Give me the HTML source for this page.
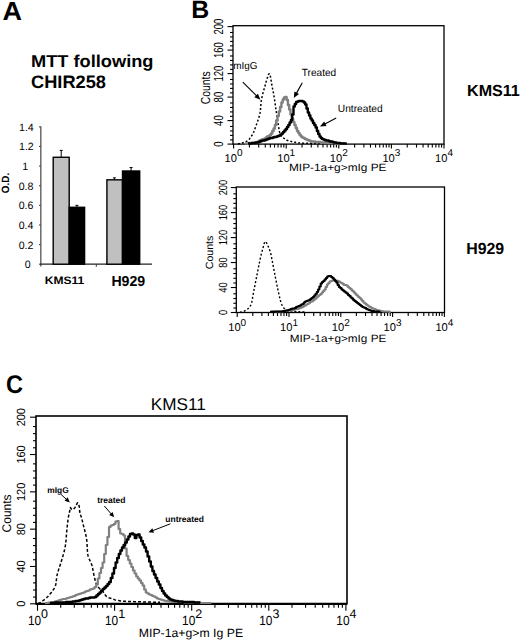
<!DOCTYPE html>
<html><head><meta charset="utf-8"><style>
html,body{margin:0;padding:0;background:#fff;width:520px;height:642px;overflow:hidden}
svg{display:block}
text{font-family:"Liberation Sans",sans-serif;text-rendering:geometricPrecision}
</style></head><body>
<svg width="520" height="642" viewBox="0 0 520 642">
<rect width="520" height="642" fill="#fff"/>
<text x="2.5" y="20" font-size="26" font-weight="bold" text-anchor="start" textLength="19.5" lengthAdjust="spacingAndGlyphs" fill="#000" >A</text>
<text x="31" y="66.5" font-size="17.2" font-weight="bold" text-anchor="start" textLength="122.5" lengthAdjust="spacingAndGlyphs" fill="#000" >MTT following</text>
<text x="31" y="88" font-size="18" font-weight="bold" text-anchor="start" textLength="75" lengthAdjust="spacingAndGlyphs" fill="#000" >CHIR258</text>
<line x1="40.80" y1="126.20" x2="40.80" y2="266.40" stroke="#6a6a6a" stroke-width="1.5" />
<line x1="40.00" y1="264.20" x2="152.00" y2="264.20" stroke="#222" stroke-width="1.3" />
<line x1="39.00" y1="264.20" x2="40.50" y2="264.20" stroke="#333" stroke-width="1" />
<text x="27.8" y="268.3" font-size="10.6" text-anchor="middle" fill="#000" >0</text>
<line x1="39.00" y1="244.58" x2="40.50" y2="244.58" stroke="#333" stroke-width="1" />
<text x="26" y="248.64000000000001" font-size="10.6" text-anchor="middle" fill="#000" >0.2</text>
<line x1="39.00" y1="224.96" x2="40.50" y2="224.96" stroke="#333" stroke-width="1" />
<text x="26" y="228.98000000000002" font-size="10.6" text-anchor="middle" fill="#000" >0.4</text>
<line x1="39.00" y1="205.34" x2="40.50" y2="205.34" stroke="#333" stroke-width="1" />
<text x="26" y="209.32" font-size="10.6" text-anchor="middle" fill="#000" >0.6</text>
<line x1="39.00" y1="185.72" x2="40.50" y2="185.72" stroke="#333" stroke-width="1" />
<text x="26" y="189.66000000000003" font-size="10.6" text-anchor="middle" fill="#000" >0.8</text>
<line x1="39.00" y1="166.10" x2="40.50" y2="166.10" stroke="#333" stroke-width="1" />
<text x="25.3" y="170.0" font-size="10.6" text-anchor="middle" fill="#000" >1</text>
<line x1="39.00" y1="146.48" x2="40.50" y2="146.48" stroke="#333" stroke-width="1" />
<text x="26.4" y="150.34" font-size="10.6" text-anchor="middle" fill="#000" >1.2</text>
<line x1="39.00" y1="126.86" x2="40.50" y2="126.86" stroke="#333" stroke-width="1" />
<text x="26.4" y="130.68" font-size="10.6" text-anchor="middle" fill="#000" >1.4</text>
<line x1="96.30" y1="264.20" x2="96.30" y2="266.80" stroke="#333" stroke-width="1" />
<rect x="53.2" y="157.27" width="16.0" height="106.93" fill="#c0c0c0" stroke="#000" stroke-width="1.4"/>
<rect x="69.2" y="207.30" width="15.399999999999991" height="56.90" fill="#000" stroke="#000" stroke-width="1.4"/>
<rect x="106.9" y="179.83" width="15.599999999999994" height="84.37" fill="#c0c0c0" stroke="#000" stroke-width="1.4"/>
<rect x="122.5" y="171.00" width="17.19999999999999" height="93.19" fill="#000" stroke="#000" stroke-width="1.4"/>
<line x1="61.20" y1="157.27" x2="61.20" y2="150.40" stroke="#000" stroke-width="1" />
<line x1="59.70" y1="150.40" x2="62.70" y2="150.40" stroke="#000" stroke-width="1" />
<line x1="76.90" y1="207.30" x2="76.90" y2="205.34" stroke="#000" stroke-width="1" />
<line x1="75.40" y1="205.34" x2="78.40" y2="205.34" stroke="#000" stroke-width="1" />
<line x1="114.40" y1="179.83" x2="114.40" y2="177.87" stroke="#000" stroke-width="1" />
<line x1="112.90" y1="177.87" x2="115.90" y2="177.87" stroke="#000" stroke-width="1" />
<line x1="131.10" y1="171.00" x2="131.10" y2="167.57" stroke="#000" stroke-width="1" />
<line x1="129.60" y1="167.57" x2="132.60" y2="167.57" stroke="#000" stroke-width="1" />
<text x="8.8" y="183" font-size="10.5" font-weight="bold" text-anchor="middle" textLength="20.5" lengthAdjust="spacingAndGlyphs" transform="rotate(-90 8.8 183)" fill="#000" >O.D.</text>
<text x="44.8" y="284" font-size="10.8" font-weight="bold" text-anchor="start" textLength="39.5" lengthAdjust="spacingAndGlyphs" fill="#000" >KMS11</text>
<text x="111.4" y="286" font-size="14.5" font-weight="bold" text-anchor="start" textLength="33.8" lengthAdjust="spacingAndGlyphs" fill="#000" >H929</text>
<text x="191.2" y="17.6" font-size="25" font-weight="bold" text-anchor="start" textLength="18" lengthAdjust="spacingAndGlyphs" fill="#000" >B</text>
<rect x="233" y="25.7" width="211" height="118.39999999999999" fill="none" stroke="#000" stroke-width="1.3"/>
<line x1="227.50" y1="26.60" x2="233.00" y2="26.60" stroke="#000" stroke-width="1.1" />
<text x="223.2" y="26.6" font-size="13.2" text-anchor="middle" textLength="16.0" lengthAdjust="spacingAndGlyphs" transform="rotate(-90 223.2 26.6)" fill="#000" >200</text>
<line x1="230.00" y1="32.48" x2="233.00" y2="32.48" stroke="#000" stroke-width="1.1" />
<line x1="230.00" y1="36.94" x2="233.00" y2="36.94" stroke="#000" stroke-width="1.1" />
<line x1="230.00" y1="41.41" x2="233.00" y2="41.41" stroke="#000" stroke-width="1.1" />
<line x1="230.00" y1="45.87" x2="233.00" y2="45.87" stroke="#000" stroke-width="1.1" />
<line x1="227.50" y1="50.10" x2="233.00" y2="50.10" stroke="#000" stroke-width="1.1" />
<text x="223.2" y="50.1" font-size="13.2" text-anchor="middle" textLength="16.0" lengthAdjust="spacingAndGlyphs" transform="rotate(-90 223.2 50.1)" fill="#000" >160</text>
<line x1="230.00" y1="55.98" x2="233.00" y2="55.98" stroke="#000" stroke-width="1.1" />
<line x1="230.00" y1="60.44" x2="233.00" y2="60.44" stroke="#000" stroke-width="1.1" />
<line x1="230.00" y1="64.91" x2="233.00" y2="64.91" stroke="#000" stroke-width="1.1" />
<line x1="230.00" y1="69.37" x2="233.00" y2="69.37" stroke="#000" stroke-width="1.1" />
<line x1="227.50" y1="73.60" x2="233.00" y2="73.60" stroke="#000" stroke-width="1.1" />
<text x="223.2" y="73.6" font-size="13.2" text-anchor="middle" textLength="16.0" lengthAdjust="spacingAndGlyphs" transform="rotate(-90 223.2 73.6)" fill="#000" >120</text>
<line x1="230.00" y1="79.47" x2="233.00" y2="79.47" stroke="#000" stroke-width="1.1" />
<line x1="230.00" y1="83.94" x2="233.00" y2="83.94" stroke="#000" stroke-width="1.1" />
<line x1="230.00" y1="88.41" x2="233.00" y2="88.41" stroke="#000" stroke-width="1.1" />
<line x1="230.00" y1="92.87" x2="233.00" y2="92.87" stroke="#000" stroke-width="1.1" />
<line x1="227.50" y1="97.10" x2="233.00" y2="97.10" stroke="#000" stroke-width="1.1" />
<text x="223.2" y="97.1" font-size="13.2" text-anchor="middle" textLength="10.666666666666666" lengthAdjust="spacingAndGlyphs" transform="rotate(-90 223.2 97.1)" fill="#000" >80</text>
<line x1="230.00" y1="102.97" x2="233.00" y2="102.97" stroke="#000" stroke-width="1.1" />
<line x1="230.00" y1="107.44" x2="233.00" y2="107.44" stroke="#000" stroke-width="1.1" />
<line x1="230.00" y1="111.91" x2="233.00" y2="111.91" stroke="#000" stroke-width="1.1" />
<line x1="230.00" y1="116.37" x2="233.00" y2="116.37" stroke="#000" stroke-width="1.1" />
<line x1="227.50" y1="120.60" x2="233.00" y2="120.60" stroke="#000" stroke-width="1.1" />
<text x="223.2" y="120.6" font-size="13.2" text-anchor="middle" textLength="10.666666666666666" lengthAdjust="spacingAndGlyphs" transform="rotate(-90 223.2 120.6)" fill="#000" >40</text>
<line x1="230.00" y1="126.47" x2="233.00" y2="126.47" stroke="#000" stroke-width="1.1" />
<line x1="230.00" y1="130.94" x2="233.00" y2="130.94" stroke="#000" stroke-width="1.1" />
<line x1="230.00" y1="135.41" x2="233.00" y2="135.41" stroke="#000" stroke-width="1.1" />
<line x1="230.00" y1="139.87" x2="233.00" y2="139.87" stroke="#000" stroke-width="1.1" />
<line x1="227.50" y1="144.10" x2="233.00" y2="144.10" stroke="#000" stroke-width="1.1" />
<text x="223.2" y="144.1" font-size="13.2" text-anchor="middle" textLength="5.333333333333333" lengthAdjust="spacingAndGlyphs" transform="rotate(-90 223.2 144.1)" fill="#000" >0</text>
<line x1="233.60" y1="144.10" x2="233.60" y2="148.60" stroke="#000" stroke-width="1.1" />
<line x1="249.43" y1="144.10" x2="249.43" y2="147.60" stroke="#000" stroke-width="1.1" />
<line x1="258.70" y1="144.10" x2="258.70" y2="147.60" stroke="#000" stroke-width="1.1" />
<line x1="265.27" y1="144.10" x2="265.27" y2="147.60" stroke="#000" stroke-width="1.1" />
<line x1="270.37" y1="144.10" x2="270.37" y2="147.60" stroke="#000" stroke-width="1.1" />
<line x1="274.53" y1="144.10" x2="274.53" y2="147.60" stroke="#000" stroke-width="1.1" />
<line x1="278.05" y1="144.10" x2="278.05" y2="147.60" stroke="#000" stroke-width="1.1" />
<line x1="281.10" y1="144.10" x2="281.10" y2="147.60" stroke="#000" stroke-width="1.1" />
<line x1="283.79" y1="144.10" x2="283.79" y2="147.60" stroke="#000" stroke-width="1.1" />
<line x1="286.20" y1="144.10" x2="286.20" y2="148.60" stroke="#000" stroke-width="1.1" />
<line x1="302.03" y1="144.10" x2="302.03" y2="147.60" stroke="#000" stroke-width="1.1" />
<line x1="311.30" y1="144.10" x2="311.30" y2="147.60" stroke="#000" stroke-width="1.1" />
<line x1="317.87" y1="144.10" x2="317.87" y2="147.60" stroke="#000" stroke-width="1.1" />
<line x1="322.97" y1="144.10" x2="322.97" y2="147.60" stroke="#000" stroke-width="1.1" />
<line x1="327.13" y1="144.10" x2="327.13" y2="147.60" stroke="#000" stroke-width="1.1" />
<line x1="330.65" y1="144.10" x2="330.65" y2="147.60" stroke="#000" stroke-width="1.1" />
<line x1="333.70" y1="144.10" x2="333.70" y2="147.60" stroke="#000" stroke-width="1.1" />
<line x1="336.39" y1="144.10" x2="336.39" y2="147.60" stroke="#000" stroke-width="1.1" />
<line x1="338.80" y1="144.10" x2="338.80" y2="148.60" stroke="#000" stroke-width="1.1" />
<line x1="354.63" y1="144.10" x2="354.63" y2="147.60" stroke="#000" stroke-width="1.1" />
<line x1="363.90" y1="144.10" x2="363.90" y2="147.60" stroke="#000" stroke-width="1.1" />
<line x1="370.47" y1="144.10" x2="370.47" y2="147.60" stroke="#000" stroke-width="1.1" />
<line x1="375.57" y1="144.10" x2="375.57" y2="147.60" stroke="#000" stroke-width="1.1" />
<line x1="379.73" y1="144.10" x2="379.73" y2="147.60" stroke="#000" stroke-width="1.1" />
<line x1="383.25" y1="144.10" x2="383.25" y2="147.60" stroke="#000" stroke-width="1.1" />
<line x1="386.30" y1="144.10" x2="386.30" y2="147.60" stroke="#000" stroke-width="1.1" />
<line x1="388.99" y1="144.10" x2="388.99" y2="147.60" stroke="#000" stroke-width="1.1" />
<line x1="391.40" y1="144.10" x2="391.40" y2="148.60" stroke="#000" stroke-width="1.1" />
<line x1="407.23" y1="144.10" x2="407.23" y2="147.60" stroke="#000" stroke-width="1.1" />
<line x1="416.50" y1="144.10" x2="416.50" y2="147.60" stroke="#000" stroke-width="1.1" />
<line x1="423.07" y1="144.10" x2="423.07" y2="147.60" stroke="#000" stroke-width="1.1" />
<line x1="428.17" y1="144.10" x2="428.17" y2="147.60" stroke="#000" stroke-width="1.1" />
<line x1="432.33" y1="144.10" x2="432.33" y2="147.60" stroke="#000" stroke-width="1.1" />
<line x1="435.85" y1="144.10" x2="435.85" y2="147.60" stroke="#000" stroke-width="1.1" />
<line x1="438.90" y1="144.10" x2="438.90" y2="147.60" stroke="#000" stroke-width="1.1" />
<line x1="441.59" y1="144.10" x2="441.59" y2="147.60" stroke="#000" stroke-width="1.1" />
<line x1="444.00" y1="144.10" x2="444.00" y2="148.60" stroke="#000" stroke-width="1.1" />
<text x="233.60" y="161.6" font-size="11.3" text-anchor="middle" fill="#000"><tspan textLength="12.4" lengthAdjust="spacingAndGlyphs">10</tspan><tspan font-size="10" dy="-5.3">0</tspan></text>
<text x="286.20" y="161.6" font-size="11.3" text-anchor="middle" fill="#000"><tspan textLength="12.4" lengthAdjust="spacingAndGlyphs">10</tspan><tspan font-size="10" dy="-5.3">1</tspan></text>
<text x="338.80" y="161.6" font-size="11.3" text-anchor="middle" fill="#000"><tspan textLength="12.4" lengthAdjust="spacingAndGlyphs">10</tspan><tspan font-size="10" dy="-5.3">2</tspan></text>
<text x="391.40" y="161.6" font-size="11.3" text-anchor="middle" fill="#000"><tspan textLength="12.4" lengthAdjust="spacingAndGlyphs">10</tspan><tspan font-size="10" dy="-5.3">3</tspan></text>
<text x="444.00" y="161.6" font-size="11.3" text-anchor="middle" fill="#000"><tspan textLength="12.4" lengthAdjust="spacingAndGlyphs">10</tspan><tspan font-size="10" dy="-5.3">4</tspan></text>
<text x="209.6" y="87.8" font-size="13" text-anchor="middle" textLength="33" lengthAdjust="spacingAndGlyphs" transform="rotate(-90 209.6 87.8)" fill="#000" >Counts</text>
<text x="289" y="171.3" font-size="10.5" text-anchor="start" textLength="97.5" lengthAdjust="spacingAndGlyphs" fill="#000" >MIP-1a+g&gt;mIg PE</text>
<rect x="236.3" y="187" width="208.2" height="125.5" fill="none" stroke="#000" stroke-width="1.3"/>
<line x1="230.80" y1="187.60" x2="236.30" y2="187.60" stroke="#000" stroke-width="1.1" />
<text x="226.8" y="187.6" font-size="11.8" text-anchor="middle" textLength="15.5" lengthAdjust="spacingAndGlyphs" transform="rotate(-90 226.8 187.6)" fill="#000" >200</text>
<line x1="233.30" y1="193.84" x2="236.30" y2="193.84" stroke="#000" stroke-width="1.1" />
<line x1="233.30" y1="198.59" x2="236.30" y2="198.59" stroke="#000" stroke-width="1.1" />
<line x1="233.30" y1="203.34" x2="236.30" y2="203.34" stroke="#000" stroke-width="1.1" />
<line x1="233.30" y1="208.08" x2="236.30" y2="208.08" stroke="#000" stroke-width="1.1" />
<line x1="230.80" y1="212.58" x2="236.30" y2="212.58" stroke="#000" stroke-width="1.1" />
<text x="226.8" y="212.57999999999998" font-size="11.8" text-anchor="middle" textLength="15.5" lengthAdjust="spacingAndGlyphs" transform="rotate(-90 226.8 212.57999999999998)" fill="#000" >160</text>
<line x1="233.30" y1="218.82" x2="236.30" y2="218.82" stroke="#000" stroke-width="1.1" />
<line x1="233.30" y1="223.57" x2="236.30" y2="223.57" stroke="#000" stroke-width="1.1" />
<line x1="233.30" y1="228.32" x2="236.30" y2="228.32" stroke="#000" stroke-width="1.1" />
<line x1="233.30" y1="233.06" x2="236.30" y2="233.06" stroke="#000" stroke-width="1.1" />
<line x1="230.80" y1="237.56" x2="236.30" y2="237.56" stroke="#000" stroke-width="1.1" />
<text x="226.8" y="237.56" font-size="11.8" text-anchor="middle" textLength="15.5" lengthAdjust="spacingAndGlyphs" transform="rotate(-90 226.8 237.56)" fill="#000" >120</text>
<line x1="233.30" y1="243.81" x2="236.30" y2="243.81" stroke="#000" stroke-width="1.1" />
<line x1="233.30" y1="248.55" x2="236.30" y2="248.55" stroke="#000" stroke-width="1.1" />
<line x1="233.30" y1="253.30" x2="236.30" y2="253.30" stroke="#000" stroke-width="1.1" />
<line x1="233.30" y1="258.04" x2="236.30" y2="258.04" stroke="#000" stroke-width="1.1" />
<line x1="230.80" y1="262.54" x2="236.30" y2="262.54" stroke="#000" stroke-width="1.1" />
<text x="226.8" y="262.53999999999996" font-size="11.8" text-anchor="middle" textLength="10.333333333333334" lengthAdjust="spacingAndGlyphs" transform="rotate(-90 226.8 262.53999999999996)" fill="#000" >80</text>
<line x1="233.30" y1="268.78" x2="236.30" y2="268.78" stroke="#000" stroke-width="1.1" />
<line x1="233.30" y1="273.53" x2="236.30" y2="273.53" stroke="#000" stroke-width="1.1" />
<line x1="233.30" y1="278.28" x2="236.30" y2="278.28" stroke="#000" stroke-width="1.1" />
<line x1="233.30" y1="283.02" x2="236.30" y2="283.02" stroke="#000" stroke-width="1.1" />
<line x1="230.80" y1="287.52" x2="236.30" y2="287.52" stroke="#000" stroke-width="1.1" />
<text x="226.8" y="287.52" font-size="11.8" text-anchor="middle" textLength="10.333333333333334" lengthAdjust="spacingAndGlyphs" transform="rotate(-90 226.8 287.52)" fill="#000" >40</text>
<line x1="233.30" y1="293.76" x2="236.30" y2="293.76" stroke="#000" stroke-width="1.1" />
<line x1="233.30" y1="298.51" x2="236.30" y2="298.51" stroke="#000" stroke-width="1.1" />
<line x1="233.30" y1="303.26" x2="236.30" y2="303.26" stroke="#000" stroke-width="1.1" />
<line x1="233.30" y1="308.00" x2="236.30" y2="308.00" stroke="#000" stroke-width="1.1" />
<line x1="230.80" y1="312.50" x2="236.30" y2="312.50" stroke="#000" stroke-width="1.1" />
<text x="226.8" y="312.5" font-size="11.8" text-anchor="middle" textLength="5.166666666666667" lengthAdjust="spacingAndGlyphs" transform="rotate(-90 226.8 312.5)" fill="#000" >0</text>
<line x1="237.20" y1="312.50" x2="237.20" y2="317.00" stroke="#000" stroke-width="1.1" />
<line x1="252.79" y1="312.50" x2="252.79" y2="316.00" stroke="#000" stroke-width="1.1" />
<line x1="261.91" y1="312.50" x2="261.91" y2="316.00" stroke="#000" stroke-width="1.1" />
<line x1="268.39" y1="312.50" x2="268.39" y2="316.00" stroke="#000" stroke-width="1.1" />
<line x1="273.41" y1="312.50" x2="273.41" y2="316.00" stroke="#000" stroke-width="1.1" />
<line x1="277.51" y1="312.50" x2="277.51" y2="316.00" stroke="#000" stroke-width="1.1" />
<line x1="280.98" y1="312.50" x2="280.98" y2="316.00" stroke="#000" stroke-width="1.1" />
<line x1="283.98" y1="312.50" x2="283.98" y2="316.00" stroke="#000" stroke-width="1.1" />
<line x1="286.63" y1="312.50" x2="286.63" y2="316.00" stroke="#000" stroke-width="1.1" />
<line x1="289.00" y1="312.50" x2="289.00" y2="317.00" stroke="#000" stroke-width="1.1" />
<line x1="304.59" y1="312.50" x2="304.59" y2="316.00" stroke="#000" stroke-width="1.1" />
<line x1="313.71" y1="312.50" x2="313.71" y2="316.00" stroke="#000" stroke-width="1.1" />
<line x1="320.19" y1="312.50" x2="320.19" y2="316.00" stroke="#000" stroke-width="1.1" />
<line x1="325.21" y1="312.50" x2="325.21" y2="316.00" stroke="#000" stroke-width="1.1" />
<line x1="329.31" y1="312.50" x2="329.31" y2="316.00" stroke="#000" stroke-width="1.1" />
<line x1="332.78" y1="312.50" x2="332.78" y2="316.00" stroke="#000" stroke-width="1.1" />
<line x1="335.78" y1="312.50" x2="335.78" y2="316.00" stroke="#000" stroke-width="1.1" />
<line x1="338.43" y1="312.50" x2="338.43" y2="316.00" stroke="#000" stroke-width="1.1" />
<line x1="340.80" y1="312.50" x2="340.80" y2="317.00" stroke="#000" stroke-width="1.1" />
<line x1="356.39" y1="312.50" x2="356.39" y2="316.00" stroke="#000" stroke-width="1.1" />
<line x1="365.51" y1="312.50" x2="365.51" y2="316.00" stroke="#000" stroke-width="1.1" />
<line x1="371.99" y1="312.50" x2="371.99" y2="316.00" stroke="#000" stroke-width="1.1" />
<line x1="377.01" y1="312.50" x2="377.01" y2="316.00" stroke="#000" stroke-width="1.1" />
<line x1="381.11" y1="312.50" x2="381.11" y2="316.00" stroke="#000" stroke-width="1.1" />
<line x1="384.58" y1="312.50" x2="384.58" y2="316.00" stroke="#000" stroke-width="1.1" />
<line x1="387.58" y1="312.50" x2="387.58" y2="316.00" stroke="#000" stroke-width="1.1" />
<line x1="390.23" y1="312.50" x2="390.23" y2="316.00" stroke="#000" stroke-width="1.1" />
<line x1="392.60" y1="312.50" x2="392.60" y2="317.00" stroke="#000" stroke-width="1.1" />
<line x1="408.19" y1="312.50" x2="408.19" y2="316.00" stroke="#000" stroke-width="1.1" />
<line x1="417.31" y1="312.50" x2="417.31" y2="316.00" stroke="#000" stroke-width="1.1" />
<line x1="423.79" y1="312.50" x2="423.79" y2="316.00" stroke="#000" stroke-width="1.1" />
<line x1="428.81" y1="312.50" x2="428.81" y2="316.00" stroke="#000" stroke-width="1.1" />
<line x1="432.91" y1="312.50" x2="432.91" y2="316.00" stroke="#000" stroke-width="1.1" />
<line x1="436.38" y1="312.50" x2="436.38" y2="316.00" stroke="#000" stroke-width="1.1" />
<line x1="439.38" y1="312.50" x2="439.38" y2="316.00" stroke="#000" stroke-width="1.1" />
<line x1="442.03" y1="312.50" x2="442.03" y2="316.00" stroke="#000" stroke-width="1.1" />
<line x1="444.40" y1="312.50" x2="444.40" y2="317.00" stroke="#000" stroke-width="1.1" />
<text x="237.20" y="330.8" font-size="11.3" text-anchor="middle" fill="#000"><tspan textLength="12.4" lengthAdjust="spacingAndGlyphs">10</tspan><tspan font-size="10" dy="-5.3">0</tspan></text>
<text x="289.00" y="330.8" font-size="11.3" text-anchor="middle" fill="#000"><tspan textLength="12.4" lengthAdjust="spacingAndGlyphs">10</tspan><tspan font-size="10" dy="-5.3">1</tspan></text>
<text x="340.80" y="330.8" font-size="11.3" text-anchor="middle" fill="#000"><tspan textLength="12.4" lengthAdjust="spacingAndGlyphs">10</tspan><tspan font-size="10" dy="-5.3">2</tspan></text>
<text x="392.60" y="330.8" font-size="11.3" text-anchor="middle" fill="#000"><tspan textLength="12.4" lengthAdjust="spacingAndGlyphs">10</tspan><tspan font-size="10" dy="-5.3">3</tspan></text>
<text x="444.40" y="330.8" font-size="11.3" text-anchor="middle" fill="#000"><tspan textLength="12.4" lengthAdjust="spacingAndGlyphs">10</tspan><tspan font-size="10" dy="-5.3">4</tspan></text>
<text x="213.5" y="252.4" font-size="10.5" text-anchor="middle" textLength="33.5" lengthAdjust="spacingAndGlyphs" transform="rotate(-90 213.5 252.4)" fill="#000" >Counts</text>
<text x="289.8" y="341.5" font-size="10.5" text-anchor="start" textLength="96.5" lengthAdjust="spacingAndGlyphs" fill="#000" >MIP-1a+g&gt;mIg PE</text>
<text x="467" y="95.6" font-size="16" font-weight="bold" text-anchor="start" textLength="52.8" lengthAdjust="spacingAndGlyphs" fill="#000" >KMS11</text>
<text x="466.2" y="253.8" font-size="16" font-weight="bold" text-anchor="start" textLength="38" lengthAdjust="spacingAndGlyphs" fill="#000" >H929</text>
<polyline points="238.00,144.00 238.61,143.83 239.43,143.63 240.41,143.40 241.49,143.13 242.64,142.83 243.79,142.49 244.90,142.10 245.92,141.68 246.80,141.20 247.65,140.61 248.43,139.96 249.14,139.26 249.81,138.50 250.44,137.69 251.04,136.84 251.62,135.94 252.20,135.00 252.69,134.13 253.15,133.22 253.58,132.27 253.99,131.29 254.39,130.27 254.79,129.21 255.18,128.11 255.58,126.97 256.00,125.80 256.33,124.89 256.67,123.95 257.02,122.98 257.38,121.99 257.73,120.98 258.09,119.94 258.43,118.90 258.77,117.83 259.08,116.76 259.38,115.68 259.66,114.59 259.90,113.50 260.09,112.48 260.25,111.45 260.39,110.40 260.50,109.33 260.60,108.26 260.68,107.17 260.77,106.09 260.85,105.00 260.94,103.91 261.05,102.82 261.17,101.74 261.32,100.66 261.50,99.60 261.69,98.62 261.89,97.63 262.11,96.64 262.34,95.65 262.58,94.67 262.83,93.68 263.08,92.70 263.34,91.72 263.61,90.75 263.89,89.78 264.16,88.82 264.44,87.87 264.72,86.93 265.00,86.00 265.31,84.94 265.63,83.79 265.97,82.57 266.32,81.31 266.67,80.05 267.02,78.83 267.38,77.66 267.73,76.58 268.07,75.63 268.40,74.83 268.72,74.22 269.02,73.84 269.30,73.70 269.58,73.87 269.85,74.36 270.11,75.12 270.35,76.10 270.58,77.25 270.81,78.52 271.02,79.86 271.23,81.23 271.43,82.58 271.62,83.86 271.81,85.01 272.00,86.00 272.24,87.11 272.45,88.10 272.65,89.01 272.83,89.88 273.02,90.74 273.20,91.65 273.38,92.63 273.58,93.74 273.80,95.00 273.94,95.84 274.08,96.73 274.23,97.67 274.38,98.65 274.53,99.66 274.68,100.70 274.84,101.76 275.00,102.84 275.16,103.93 275.31,105.03 275.47,106.13 275.63,107.22 275.79,108.30 275.95,109.36 276.10,110.40 276.25,111.44 276.41,112.50 276.56,113.58 276.71,114.67 276.87,115.76 277.02,116.86 277.17,117.95 277.33,119.02 277.48,120.09 277.63,121.13 277.79,122.14 277.94,123.12 278.09,124.06 278.25,124.95 278.40,125.80 278.64,127.12 278.85,128.35 279.06,129.50 279.26,130.57 279.47,131.57 279.71,132.50 279.99,133.38 280.31,134.21 280.70,135.00 281.31,135.92 282.03,136.74 282.83,137.45 283.66,138.08 284.49,138.64 285.28,139.14 286.00,139.60 286.95,140.21 287.71,140.57 288.61,140.86 290.00,141.20 290.71,141.38 291.46,141.57 292.24,141.77 293.09,141.97 294.00,142.17 294.99,142.36 296.08,142.55 297.26,142.72 298.57,142.87 300.00,143.00 300.80,143.05 301.69,143.10 302.65,143.15 303.68,143.19 304.77,143.23 305.90,143.26 307.06,143.29 308.24,143.32 309.43,143.34 310.62,143.36 311.80,143.38 312.96,143.40 314.08,143.41 315.16,143.43 316.17,143.44 317.12,143.45 317.99,143.46 318.76,143.48 319.44,143.49 320.00,143.50" fill="none" stroke="#000" stroke-width="1.5" stroke-linejoin="round" stroke-dasharray="2,2"/>
<polyline points="245.00,143.50 246.30,143.50 246.30,143.50 247.60,143.50 247.60,143.50 248.90,143.50 248.90,143.00 250.20,143.00 250.20,143.00 251.50,143.00 251.50,143.00 252.80,143.00 252.80,143.00 254.10,143.00 254.10,142.50 255.40,142.50 255.40,142.50 256.70,142.50 256.70,142.00 258.00,142.00 258.00,141.50 259.30,141.50 259.30,140.50 260.60,140.50 260.60,140.00 261.90,140.00 261.90,139.50 263.20,139.50 263.20,139.00 264.50,139.00 264.50,138.50 265.80,138.50 265.80,137.50 267.10,137.50 267.10,136.50 268.40,136.50 268.40,136.00 269.70,136.00 269.70,135.00 271.00,135.00 271.00,133.50 272.30,133.50 272.30,131.00 273.60,131.00 273.60,128.50 274.90,128.50 274.90,125.00 276.20,125.00 276.20,120.50 277.50,120.50 277.50,116.00 278.80,116.00 278.80,111.50 280.10,111.50 280.10,107.00 281.40,107.00 281.40,102.50 282.70,102.50 282.70,99.50 284.00,99.50 284.00,97.50 285.30,97.50 285.30,97.00 286.60,97.00 286.60,100.00 287.90,100.00 287.90,105.00 289.20,105.00 289.20,109.50 290.50,109.50 290.50,114.50 291.80,114.50 291.80,118.50 293.10,118.50 293.10,122.00 294.40,122.00 294.40,125.00 295.70,125.00 295.70,128.00 297.00,128.00 297.00,131.00 298.30,131.00 298.30,133.00 299.60,133.00 299.60,135.00 300.90,135.00 300.90,136.50 302.20,136.50 302.20,137.50 303.50,137.50 303.50,138.00 304.80,138.00 304.80,139.00 306.10,139.00 306.10,139.50 307.40,139.50 307.40,140.00 308.70,140.00 308.70,140.50 310.00,140.50 310.00,141.00 311.30,141.00 311.30,141.50 312.60,141.50 312.60,141.50 313.90,141.50 313.90,141.50 315.20,141.50 315.20,142.00 316.50,142.00 316.50,142.00 317.80,142.00 317.80,142.00 319.10,142.00 319.10,142.00 320.40,142.00 320.40,142.50 321.70,142.50 321.70,142.50 323.00,142.50 323.00,142.50 324.30,142.50 324.30,142.50 325.60,142.50 325.60,142.50 326.90,142.50 326.90,143.00 328.20,143.00 328.20,143.00 329.50,143.00 329.50,143.00 330.80,143.00 330.80,143.00 332.10,143.00 332.10,143.00 333.40,143.00 333.40,143.00 334.70,143.00 334.70,143.00 336.00,143.00 336.00,143.50 337.30,143.50 337.30,143.50 338.60,143.50 338.60,143.50 339.90,143.50 339.90,143.50 341.20,143.50 341.20,143.50 342.50,143.50 342.50,143.50 343.80,143.50 343.80,143.50 345.10,143.50" fill="none" stroke="#808080" stroke-width="2.4" stroke-linejoin="round"/>
<polyline points="248.00,143.50 249.30,143.50 249.30,143.50 250.60,143.50 250.60,143.50 251.90,143.50 251.90,143.00 253.20,143.00 253.20,143.00 254.50,143.00 254.50,143.00 255.80,143.00 255.80,142.50 257.10,142.50 257.10,142.50 258.40,142.50 258.40,142.00 259.70,142.00 259.70,141.50 261.00,141.50 261.00,141.00 262.30,141.00 262.30,140.50 263.60,140.50 263.60,140.50 264.90,140.50 264.90,140.00 266.20,140.00 266.20,139.50 267.50,139.50 267.50,139.00 268.80,139.00 268.80,138.50 270.10,138.50 270.10,138.00 271.40,138.00 271.40,138.00 272.70,138.00 272.70,137.50 274.00,137.50 274.00,137.00 275.30,137.00 275.30,137.00 276.60,137.00 276.60,136.50 277.90,136.50 277.90,136.00 279.20,136.00 279.20,135.50 280.50,135.50 280.50,134.50 281.80,134.50 281.80,133.50 283.10,133.50 283.10,132.00 284.40,132.00 284.40,130.50 285.70,130.50 285.70,129.00 287.00,129.00 287.00,127.00 288.30,127.00 288.30,125.00 289.60,125.00 289.60,122.50 290.90,122.50 290.90,120.00 292.20,120.00 292.20,114.50 293.50,114.50 293.50,106.50 294.80,106.50 294.80,104.00 296.10,104.00 296.10,102.00 297.40,102.00 297.40,101.50 298.70,101.50 298.70,101.00 300.00,101.00 300.00,101.00 301.30,101.00 301.30,101.00 302.60,101.00 302.60,101.50 303.90,101.50 303.90,102.50 305.20,102.50 305.20,104.50 306.50,104.50 306.50,108.50 307.80,108.50 307.80,112.50 309.10,112.50 309.10,115.50 310.40,115.50 310.40,118.50 311.70,118.50 311.70,120.50 313.00,120.50 313.00,123.00 314.30,123.00 314.30,125.00 315.60,125.00 315.60,127.50 316.90,127.50 316.90,131.00 318.20,131.00 318.20,134.00 319.50,134.00 319.50,136.50 320.80,136.50 320.80,138.00 322.10,138.00 322.10,139.00 323.40,139.00 323.40,139.50 324.70,139.50 324.70,140.00 326.00,140.00 326.00,140.50 327.30,140.50 327.30,140.50 328.60,140.50 328.60,141.00 329.90,141.00 329.90,141.50 331.20,141.50 331.20,141.50 332.50,141.50 332.50,142.00 333.80,142.00 333.80,142.50 335.10,142.50 335.10,142.50 336.40,142.50 336.40,143.00 337.70,143.00 337.70,143.00 339.00,143.00 339.00,143.00 340.30,143.00 340.30,143.50 341.60,143.50 341.60,143.50 342.90,143.50 342.90,143.50 344.20,143.50 344.20,143.50 345.50,143.50 345.50,143.50 346.80,143.50" fill="none" stroke="#000" stroke-width="2.4" stroke-linejoin="round"/>
<text x="233.2" y="68.9" font-size="10" text-anchor="start" textLength="24.2" lengthAdjust="spacingAndGlyphs" fill="#000" >mIgG</text>
<text x="301.8" y="76" font-size="10.4" text-anchor="start" textLength="34.4" lengthAdjust="spacingAndGlyphs" fill="#000" >Treated</text>
<text x="337.8" y="112.2" font-size="10.4" text-anchor="start" textLength="44.8" lengthAdjust="spacingAndGlyphs" fill="#000" >Untreated</text>
<line x1="242.80" y1="82.20" x2="256.85" y2="96.17" stroke="#000" stroke-width="1.1" />
<polygon points="260.40,99.70 254.31,97.31 257.98,93.63" fill="#000"/>
<line x1="302.30" y1="82.70" x2="296.23" y2="93.63" stroke="#000" stroke-width="1.1" />
<polygon points="293.80,98.00 294.44,91.49 298.99,94.02" fill="#000"/>
<line x1="336.20" y1="118.10" x2="324.44" y2="124.20" stroke="#000" stroke-width="1.1" />
<polygon points="320.00,126.50 324.13,121.43 326.52,126.05" fill="#000"/>
<polyline points="240.00,312.00 240.84,312.08 242.09,312.10 243.70,311.50 244.35,311.11 245.09,310.67 245.90,310.17 246.76,309.60 247.62,308.95 248.46,308.22 249.26,307.39 249.98,306.45 250.60,305.40 250.93,304.69 251.22,303.97 251.46,303.24 251.68,302.49 251.86,301.70 252.04,300.87 252.20,299.99 252.36,299.04 252.53,298.02 252.71,296.92 252.91,295.73 253.13,294.44 253.40,293.03 253.70,291.50 253.85,290.75 254.01,289.96 254.18,289.12 254.36,288.23 254.55,287.31 254.74,286.35 254.93,285.35 255.13,284.33 255.34,283.28 255.55,282.21 255.76,281.12 255.98,280.02 256.19,278.90 256.41,277.78 256.63,276.65 256.85,275.52 257.07,274.39 257.29,273.27 257.51,272.15 257.73,271.05 257.94,269.97 258.15,268.91 258.36,267.87 258.56,266.85 258.76,265.87 258.95,264.92 259.13,264.01 259.31,263.14 259.48,262.31 259.65,261.53 259.80,260.80 260.14,259.21 260.46,257.78 260.76,256.49 261.03,255.34 261.29,254.29 261.53,253.33 261.76,252.46 261.97,251.65 262.18,250.89 262.39,250.16 262.59,249.44 262.79,248.73 263.00,248.00 263.42,246.42 263.79,244.96 264.13,243.67 264.46,242.62 264.81,241.87 265.20,241.50 265.72,241.66 266.29,242.39 266.87,243.49 267.44,244.76 268.00,246.00 268.39,246.86 268.79,247.79 269.18,248.78 269.57,249.81 269.94,250.87 270.28,251.94 270.60,253.00 270.84,253.87 271.00,254.50 271.12,255.09 271.25,255.81 271.44,256.88 271.74,258.48 272.20,260.80 272.33,261.45 272.47,262.17 272.62,262.94 272.78,263.77 272.95,264.64 273.13,265.56 273.32,266.52 273.51,267.52 273.71,268.55 273.92,269.61 274.13,270.70 274.34,271.81 274.56,272.93 274.78,274.07 275.01,275.22 275.23,276.37 275.46,277.52 275.68,278.67 275.91,279.82 276.13,280.95 276.35,282.06 276.57,283.16 276.79,284.23 277.00,285.28 277.20,286.29 277.40,287.27 277.60,288.21 277.79,289.11 277.97,289.96 278.14,290.76 278.30,291.50 278.66,293.13 278.99,294.61 279.30,295.96 279.58,297.20 279.85,298.33 280.11,299.37 280.36,300.32 280.61,301.21 280.86,302.04 281.12,302.82 281.39,303.56 281.69,304.29 282.00,305.00 282.70,306.37 283.39,307.43 284.12,308.25 284.91,308.91 285.79,309.47 286.80,310.00 287.65,310.36 288.57,310.64 289.55,310.86 290.58,311.03 291.64,311.16 292.74,311.28 293.87,311.38 295.00,311.50 295.97,311.59 297.04,311.67 298.18,311.74 299.35,311.80 300.51,311.84 301.63,311.88 302.68,311.92 303.61,311.95 304.40,311.97 305.00,312.00" fill="none" stroke="#000" stroke-width="1.4" stroke-linejoin="round" stroke-dasharray="2,2"/>
<polyline points="275.00,311.50 276.30,311.50 276.30,311.50 277.60,311.50 277.60,311.50 278.90,311.50 278.90,311.50 280.20,311.50 280.20,311.50 281.50,311.50 281.50,311.50 282.80,311.50 282.80,311.00 284.10,311.00 284.10,311.00 285.40,311.00 285.40,311.00 286.70,311.00 286.70,311.00 288.00,311.00 288.00,310.50 289.30,310.50 289.30,310.50 290.60,310.50 290.60,310.50 291.90,310.50 291.90,310.00 293.20,310.00 293.20,310.00 294.50,310.00 294.50,309.50 295.80,309.50 295.80,309.00 297.10,309.00 297.10,309.00 298.40,309.00 298.40,308.50 299.70,308.50 299.70,308.00 301.00,308.00 301.00,307.50 302.30,307.50 302.30,307.00 303.60,307.00 303.60,306.00 304.90,306.00 304.90,305.50 306.20,305.50 306.20,304.50 307.50,304.50 307.50,304.00 308.80,304.00 308.80,303.00 310.10,303.00 310.10,302.00 311.40,302.00 311.40,301.50 312.70,301.50 312.70,300.50 314.00,300.50 314.00,299.50 315.30,299.50 315.30,298.50 316.60,298.50 316.60,297.00 317.90,297.00 317.90,296.00 319.20,296.00 319.20,295.00 320.50,295.00 320.50,294.00 321.80,294.00 321.80,292.50 323.10,292.50 323.10,291.00 324.40,291.00 324.40,289.50 325.70,289.50 325.70,287.00 327.00,287.00 327.00,284.50 328.30,284.50 328.30,283.00 329.60,283.00 329.60,281.50 330.90,281.50 330.90,281.00 332.20,281.00 332.20,280.50 333.50,280.50 333.50,280.50 334.80,280.50 334.80,280.50 336.10,280.50 336.10,280.50 337.40,280.50 337.40,281.00 338.70,281.00 338.70,281.50 340.00,281.50 340.00,282.50 341.30,282.50 341.30,283.00 342.60,283.00 342.60,284.00 343.90,284.00 343.90,285.00 345.20,285.00 345.20,285.00 346.50,285.00 346.50,285.50 347.80,285.50 347.80,287.00 349.10,287.00 349.10,288.00 350.40,288.00 350.40,289.00 351.70,289.00 351.70,290.50 353.00,290.50 353.00,291.50 354.30,291.50 354.30,293.00 355.60,293.00 355.60,294.50 356.90,294.50 356.90,295.50 358.20,295.50 358.20,297.00 359.50,297.00 359.50,298.00 360.80,298.00 360.80,299.50 362.10,299.50 362.10,301.00 363.40,301.00 363.40,302.50 364.70,302.50 364.70,303.50 366.00,303.50 366.00,304.50 367.30,304.50 367.30,305.50 368.60,305.50 368.60,306.50 369.90,306.50 369.90,307.00 371.20,307.00 371.20,308.00 372.50,308.00 372.50,308.50 373.80,308.50 373.80,309.00 375.10,309.00 375.10,309.50 376.40,309.50 376.40,310.00 377.70,310.00 377.70,310.50 379.00,310.50 379.00,310.50 380.30,310.50 380.30,311.00 381.60,311.00 381.60,311.00 382.90,311.00 382.90,311.50 384.20,311.50 384.20,311.50 385.50,311.50 385.50,311.50 386.80,311.50 386.80,311.50 388.10,311.50 388.10,311.50 389.40,311.50 389.40,312.00 390.70,312.00" fill="none" stroke="#808080" stroke-width="2.1" stroke-linejoin="round"/>
<polyline points="270.00,312.00 271.30,312.00 271.30,311.50 272.60,311.50 272.60,311.50 273.90,311.50 273.90,311.50 275.20,311.50 275.20,311.50 276.50,311.50 276.50,311.50 277.80,311.50 277.80,311.50 279.10,311.50 279.10,311.50 280.40,311.50 280.40,311.50 281.70,311.50 281.70,311.50 283.00,311.50 283.00,311.00 284.30,311.00 284.30,311.00 285.60,311.00 285.60,310.50 286.90,310.50 286.90,310.50 288.20,310.50 288.20,310.00 289.50,310.00 289.50,309.50 290.80,309.50 290.80,309.00 292.10,309.00 292.10,308.50 293.40,308.50 293.40,308.50 294.70,308.50 294.70,308.00 296.00,308.00 296.00,307.00 297.30,307.00 297.30,306.50 298.60,306.50 298.60,306.00 299.90,306.00 299.90,305.50 301.20,305.50 301.20,304.50 302.50,304.50 302.50,304.00 303.80,304.00 303.80,302.50 305.10,302.50 305.10,301.50 306.40,301.50 306.40,301.00 307.70,301.00 307.70,300.50 309.00,300.50 309.00,300.00 310.30,300.00 310.30,299.00 311.60,299.00 311.60,298.00 312.90,298.00 312.90,297.00 314.20,297.00 314.20,295.50 315.50,295.50 315.50,294.00 316.80,294.00 316.80,292.00 318.10,292.00 318.10,289.50 319.40,289.50 319.40,286.50 320.70,286.50 320.70,283.50 322.00,283.50 322.00,282.00 323.30,282.00 323.30,281.00 324.60,281.00 324.60,279.50 325.90,279.50 325.90,278.00 327.20,278.00 327.20,276.50 328.50,276.50 328.50,276.00 329.80,276.00 329.80,276.00 331.10,276.00 331.10,277.00 332.40,277.00 332.40,278.00 333.70,278.00 333.70,279.50 335.00,279.50 335.00,281.00 336.30,281.00 336.30,282.50 337.60,282.50 337.60,285.00 338.90,285.00 338.90,287.00 340.20,287.00 340.20,288.00 341.50,288.00 341.50,289.50 342.80,289.50 342.80,290.50 344.10,290.50 344.10,291.50 345.40,291.50 345.40,292.50 346.70,292.50 346.70,293.50 348.00,293.50 348.00,295.00 349.30,295.00 349.30,296.00 350.60,296.00 350.60,297.50 351.90,297.50 351.90,298.50 353.20,298.50 353.20,300.00 354.50,300.00 354.50,301.00 355.80,301.00 355.80,302.00 357.10,302.00 357.10,303.00 358.40,303.00 358.40,304.00 359.70,304.00 359.70,305.00 361.00,305.00 361.00,306.00 362.30,306.00 362.30,307.00 363.60,307.00 363.60,307.50 364.90,307.50 364.90,308.00 366.20,308.00 366.20,309.00 367.50,309.00 367.50,309.50 368.80,309.50 368.80,310.00 370.10,310.00 370.10,310.50 371.40,310.50 371.40,311.00 372.70,311.00 372.70,311.00 374.00,311.00 374.00,311.50 375.30,311.50 375.30,311.50 376.60,311.50 376.60,311.50 377.90,311.50 377.90,311.50 379.20,311.50 379.20,312.00 380.50,312.00" fill="none" stroke="#000" stroke-width="2.1" stroke-linejoin="round"/>
<text x="6" y="392.8" font-size="25.5" font-weight="bold" text-anchor="start" textLength="17" lengthAdjust="spacingAndGlyphs" fill="#000" >C</text>
<text x="150.8" y="409.8" font-size="17" text-anchor="start" textLength="55" lengthAdjust="spacingAndGlyphs" fill="#000" >KMS11</text>
<rect x="36" y="416" width="311" height="187.79999999999995" fill="none" stroke="#000" stroke-width="1.6"/>
<line x1="30.00" y1="417.20" x2="36.00" y2="417.20" stroke="#000" stroke-width="1.1" />
<text x="24.9" y="417.2" font-size="11.8" text-anchor="middle" textLength="18.2" lengthAdjust="spacingAndGlyphs" transform="rotate(-90 24.9 417.2)" fill="#000" >200</text>
<line x1="33.00" y1="426.53" x2="36.00" y2="426.53" stroke="#000" stroke-width="1.1" />
<line x1="33.00" y1="433.62" x2="36.00" y2="433.62" stroke="#000" stroke-width="1.1" />
<line x1="33.00" y1="440.71" x2="36.00" y2="440.71" stroke="#000" stroke-width="1.1" />
<line x1="33.00" y1="447.80" x2="36.00" y2="447.80" stroke="#000" stroke-width="1.1" />
<line x1="30.00" y1="454.52" x2="36.00" y2="454.52" stroke="#000" stroke-width="1.1" />
<text x="24.9" y="454.52" font-size="11.8" text-anchor="middle" textLength="18.2" lengthAdjust="spacingAndGlyphs" transform="rotate(-90 24.9 454.52)" fill="#000" >160</text>
<line x1="33.00" y1="463.85" x2="36.00" y2="463.85" stroke="#000" stroke-width="1.1" />
<line x1="33.00" y1="470.94" x2="36.00" y2="470.94" stroke="#000" stroke-width="1.1" />
<line x1="33.00" y1="478.03" x2="36.00" y2="478.03" stroke="#000" stroke-width="1.1" />
<line x1="33.00" y1="485.12" x2="36.00" y2="485.12" stroke="#000" stroke-width="1.1" />
<line x1="30.00" y1="491.84" x2="36.00" y2="491.84" stroke="#000" stroke-width="1.1" />
<text x="24.9" y="491.84" font-size="11.8" text-anchor="middle" textLength="18.2" lengthAdjust="spacingAndGlyphs" transform="rotate(-90 24.9 491.84)" fill="#000" >120</text>
<line x1="33.00" y1="501.17" x2="36.00" y2="501.17" stroke="#000" stroke-width="1.1" />
<line x1="33.00" y1="508.26" x2="36.00" y2="508.26" stroke="#000" stroke-width="1.1" />
<line x1="33.00" y1="515.35" x2="36.00" y2="515.35" stroke="#000" stroke-width="1.1" />
<line x1="33.00" y1="522.44" x2="36.00" y2="522.44" stroke="#000" stroke-width="1.1" />
<line x1="30.00" y1="529.16" x2="36.00" y2="529.16" stroke="#000" stroke-width="1.1" />
<text x="24.9" y="529.16" font-size="11.8" text-anchor="middle" textLength="12.133333333333333" lengthAdjust="spacingAndGlyphs" transform="rotate(-90 24.9 529.16)" fill="#000" >80</text>
<line x1="33.00" y1="538.49" x2="36.00" y2="538.49" stroke="#000" stroke-width="1.1" />
<line x1="33.00" y1="545.58" x2="36.00" y2="545.58" stroke="#000" stroke-width="1.1" />
<line x1="33.00" y1="552.67" x2="36.00" y2="552.67" stroke="#000" stroke-width="1.1" />
<line x1="33.00" y1="559.76" x2="36.00" y2="559.76" stroke="#000" stroke-width="1.1" />
<line x1="30.00" y1="566.48" x2="36.00" y2="566.48" stroke="#000" stroke-width="1.1" />
<text x="24.9" y="566.48" font-size="11.8" text-anchor="middle" textLength="12.133333333333333" lengthAdjust="spacingAndGlyphs" transform="rotate(-90 24.9 566.48)" fill="#000" >40</text>
<line x1="33.00" y1="575.81" x2="36.00" y2="575.81" stroke="#000" stroke-width="1.1" />
<line x1="33.00" y1="582.90" x2="36.00" y2="582.90" stroke="#000" stroke-width="1.1" />
<line x1="33.00" y1="589.99" x2="36.00" y2="589.99" stroke="#000" stroke-width="1.1" />
<line x1="33.00" y1="597.08" x2="36.00" y2="597.08" stroke="#000" stroke-width="1.1" />
<line x1="30.00" y1="603.80" x2="36.00" y2="603.80" stroke="#000" stroke-width="1.1" />
<text x="24.9" y="603.8" font-size="11.8" text-anchor="middle" textLength="6.066666666666666" lengthAdjust="spacingAndGlyphs" transform="rotate(-90 24.9 603.8)" fill="#000" >0</text>
<line x1="36.00" y1="603.80" x2="347.00" y2="603.80" stroke="#000" stroke-width="2.2" />
<line x1="37.50" y1="603.80" x2="37.50" y2="610.80" stroke="#000" stroke-width="1.1" />
<line x1="60.71" y1="603.80" x2="60.71" y2="607.80" stroke="#000" stroke-width="1.1" />
<line x1="74.29" y1="603.80" x2="74.29" y2="607.80" stroke="#000" stroke-width="1.1" />
<line x1="83.92" y1="603.80" x2="83.92" y2="607.80" stroke="#000" stroke-width="1.1" />
<line x1="91.39" y1="603.80" x2="91.39" y2="607.80" stroke="#000" stroke-width="1.1" />
<line x1="97.50" y1="603.80" x2="97.50" y2="607.80" stroke="#000" stroke-width="1.1" />
<line x1="102.66" y1="603.80" x2="102.66" y2="607.80" stroke="#000" stroke-width="1.1" />
<line x1="107.13" y1="603.80" x2="107.13" y2="607.80" stroke="#000" stroke-width="1.1" />
<line x1="111.07" y1="603.80" x2="111.07" y2="607.80" stroke="#000" stroke-width="1.1" />
<line x1="114.60" y1="603.80" x2="114.60" y2="610.80" stroke="#000" stroke-width="1.1" />
<line x1="137.81" y1="603.80" x2="137.81" y2="607.80" stroke="#000" stroke-width="1.1" />
<line x1="151.39" y1="603.80" x2="151.39" y2="607.80" stroke="#000" stroke-width="1.1" />
<line x1="161.02" y1="603.80" x2="161.02" y2="607.80" stroke="#000" stroke-width="1.1" />
<line x1="168.49" y1="603.80" x2="168.49" y2="607.80" stroke="#000" stroke-width="1.1" />
<line x1="174.60" y1="603.80" x2="174.60" y2="607.80" stroke="#000" stroke-width="1.1" />
<line x1="179.76" y1="603.80" x2="179.76" y2="607.80" stroke="#000" stroke-width="1.1" />
<line x1="184.23" y1="603.80" x2="184.23" y2="607.80" stroke="#000" stroke-width="1.1" />
<line x1="188.17" y1="603.80" x2="188.17" y2="607.80" stroke="#000" stroke-width="1.1" />
<line x1="191.70" y1="603.80" x2="191.70" y2="610.80" stroke="#000" stroke-width="1.1" />
<line x1="214.91" y1="603.80" x2="214.91" y2="607.80" stroke="#000" stroke-width="1.1" />
<line x1="228.49" y1="603.80" x2="228.49" y2="607.80" stroke="#000" stroke-width="1.1" />
<line x1="238.12" y1="603.80" x2="238.12" y2="607.80" stroke="#000" stroke-width="1.1" />
<line x1="245.59" y1="603.80" x2="245.59" y2="607.80" stroke="#000" stroke-width="1.1" />
<line x1="251.70" y1="603.80" x2="251.70" y2="607.80" stroke="#000" stroke-width="1.1" />
<line x1="256.86" y1="603.80" x2="256.86" y2="607.80" stroke="#000" stroke-width="1.1" />
<line x1="261.33" y1="603.80" x2="261.33" y2="607.80" stroke="#000" stroke-width="1.1" />
<line x1="265.27" y1="603.80" x2="265.27" y2="607.80" stroke="#000" stroke-width="1.1" />
<line x1="268.80" y1="603.80" x2="268.80" y2="610.80" stroke="#000" stroke-width="1.1" />
<line x1="292.01" y1="603.80" x2="292.01" y2="607.80" stroke="#000" stroke-width="1.1" />
<line x1="305.59" y1="603.80" x2="305.59" y2="607.80" stroke="#000" stroke-width="1.1" />
<line x1="315.22" y1="603.80" x2="315.22" y2="607.80" stroke="#000" stroke-width="1.1" />
<line x1="322.69" y1="603.80" x2="322.69" y2="607.80" stroke="#000" stroke-width="1.1" />
<line x1="328.80" y1="603.80" x2="328.80" y2="607.80" stroke="#000" stroke-width="1.1" />
<line x1="333.96" y1="603.80" x2="333.96" y2="607.80" stroke="#000" stroke-width="1.1" />
<line x1="338.43" y1="603.80" x2="338.43" y2="607.80" stroke="#000" stroke-width="1.1" />
<line x1="342.37" y1="603.80" x2="342.37" y2="607.80" stroke="#000" stroke-width="1.1" />
<line x1="345.90" y1="603.80" x2="345.90" y2="610.80" stroke="#000" stroke-width="1.1" />
<text x="38.00" y="624.9" font-size="13.3" text-anchor="middle" fill="#000"><tspan textLength="13.2" lengthAdjust="spacingAndGlyphs">10</tspan><tspan font-size="12.5" dy="-6.8">0</tspan></text>
<text x="115.10" y="624.9" font-size="13.3" text-anchor="middle" fill="#000"><tspan textLength="13.2" lengthAdjust="spacingAndGlyphs">10</tspan><tspan font-size="12.5" dy="-6.8">1</tspan></text>
<text x="192.20" y="624.9" font-size="13.3" text-anchor="middle" fill="#000"><tspan textLength="13.2" lengthAdjust="spacingAndGlyphs">10</tspan><tspan font-size="12.5" dy="-6.8">2</tspan></text>
<text x="269.30" y="624.9" font-size="13.3" text-anchor="middle" fill="#000"><tspan textLength="13.2" lengthAdjust="spacingAndGlyphs">10</tspan><tspan font-size="12.5" dy="-6.8">3</tspan></text>
<text x="346.40" y="624.9" font-size="13.3" text-anchor="middle" fill="#000"><tspan textLength="13.2" lengthAdjust="spacingAndGlyphs">10</tspan><tspan font-size="12.5" dy="-6.8">4</tspan></text>
<text x="11" y="513.4" font-size="12.5" text-anchor="middle" textLength="38" lengthAdjust="spacingAndGlyphs" transform="rotate(-90 11 513.4)" fill="#000" >Counts</text>
<text x="138.8" y="636.8" font-size="12" text-anchor="start" textLength="104.3" lengthAdjust="spacingAndGlyphs" fill="#000" >MIP-1a+g&gt;m Ig PE</text>
<polyline points="38.00,603.50 38.61,603.23 39.48,602.86 40.56,602.31 41.80,601.50 42.50,600.99 43.27,600.43 44.10,599.80 44.97,599.12 45.86,598.39 46.76,597.59 47.64,596.72 48.50,595.80 49.13,595.08 49.78,594.32 50.45,593.52 51.13,592.68 51.81,591.81 52.47,590.92 53.11,590.00 53.71,589.07 54.27,588.12 54.77,587.16 55.20,586.20 55.55,585.23 55.81,584.26 56.01,583.28 56.16,582.29 56.27,581.28 56.37,580.24 56.46,579.18 56.58,578.09 56.73,576.97 56.93,575.80 57.20,574.60 57.43,573.73 57.68,572.81 57.96,571.86 58.26,570.87 58.57,569.86 58.90,568.83 59.23,567.79 59.57,566.75 59.91,565.71 60.25,564.69 60.58,563.68 60.90,562.70 61.20,561.76 61.49,560.85 61.76,560.00 62.00,559.20 62.38,557.90 62.73,556.72 63.04,555.64 63.33,554.64 63.59,553.69 63.83,552.77 64.06,551.86 64.28,550.95 64.50,550.00 64.73,548.93 64.94,547.90 65.13,546.90 65.31,545.91 65.47,544.90 65.62,543.88 65.76,542.82 65.90,541.70 66.00,540.76 66.09,539.80 66.17,538.80 66.25,537.79 66.32,536.76 66.39,535.73 66.46,534.69 66.53,533.65 66.61,532.62 66.70,531.60 66.80,530.57 66.91,529.51 67.02,528.43 67.13,527.34 67.25,526.26 67.37,525.21 67.48,524.19 67.59,523.23 67.70,522.32 67.80,521.50 67.97,520.10 68.12,518.96 68.27,517.97 68.42,517.02 68.60,516.00 68.83,514.88 69.09,513.72 69.36,512.59 69.60,511.53 69.80,510.60 69.92,509.20 69.96,508.05 70.20,507.50 70.80,508.07 71.60,509.23 72.50,509.80 73.24,509.42 74.07,508.64 74.88,507.66 75.60,506.70 76.19,505.62 76.70,504.36 77.16,503.30 77.60,502.80 78.16,503.17 78.67,504.32 79.10,505.90 79.24,506.72 79.36,507.68 79.45,508.75 79.54,509.86 79.63,510.95 79.75,511.99 79.90,512.90 80.25,514.20 80.66,515.30 81.09,516.37 81.50,517.60 81.75,518.55 82.00,519.56 82.25,520.61 82.50,521.68 82.75,522.75 83.00,523.80 83.26,524.83 83.53,525.87 83.80,526.90 84.07,527.93 84.34,528.97 84.60,530.00 84.86,531.04 85.13,532.09 85.40,533.14 85.66,534.19 85.89,535.21 86.10,536.20 86.30,537.21 86.46,538.06 86.59,538.94 86.73,540.09 86.90,541.70 86.97,542.50 87.03,543.40 87.08,544.39 87.13,545.45 87.18,546.56 87.23,547.71 87.29,548.88 87.37,550.06 87.45,551.22 87.56,552.35 87.68,553.44 87.83,554.46 88.00,555.40 88.27,556.51 88.60,557.52 88.97,558.46 89.37,559.35 89.79,560.21 90.22,561.08 90.64,561.96 91.05,562.90 91.44,563.90 91.80,565.00 92.05,565.93 92.30,566.92 92.53,567.97 92.76,569.06 92.99,570.17 93.20,571.30 93.42,572.43 93.63,573.55 93.84,574.65 94.06,575.70 94.27,576.70 94.48,577.64 94.70,578.50 95.03,579.75 95.34,580.88 95.63,581.90 95.92,582.83 96.23,583.71 96.59,584.54 97.01,585.37 97.50,586.20 98.10,587.02 98.80,587.81 99.56,588.57 100.36,589.29 101.17,590.00 101.95,590.68 102.67,591.35 103.30,592.00 104.10,593.03 104.72,594.04 105.28,594.98 105.90,595.85 106.70,596.60 107.53,597.12 108.47,597.56 109.47,597.94 110.50,598.27 111.52,598.58 112.50,598.90 113.52,599.27 114.41,599.62 115.35,599.94 116.49,600.23 118.00,600.50 118.72,600.60 119.42,600.70 120.12,600.80 120.85,600.89 121.63,600.97 122.47,601.05 123.39,601.13 124.43,601.20 125.58,601.28 126.88,601.35 128.35,601.43 130.00,601.50 130.74,601.53 131.54,601.56 132.41,601.59 133.33,601.62 134.31,601.65 135.33,601.69 136.39,601.72 137.49,601.75 138.62,601.78 139.78,601.81 140.95,601.84 142.14,601.87 143.34,601.90 144.55,601.93 145.75,601.96 146.95,601.99 148.13,602.02 149.30,602.05 150.44,602.07 151.56,602.10 152.64,602.13 153.68,602.15 154.68,602.17 155.63,602.19 156.53,602.22 157.36,602.23 158.13,602.25 158.83,602.27 159.46,602.29 160.00,602.30" fill="none" stroke="#000" stroke-width="1.5" stroke-linejoin="round" stroke-dasharray="3,2"/>
<polyline points="45.00,603.00 46.60,603.00 46.60,603.00 48.20,603.00 48.20,602.50 49.80,602.50 49.80,602.50 51.40,602.50 51.40,602.00 53.00,602.00 53.00,602.00 54.60,602.00 54.60,601.50 56.20,601.50 56.20,601.00 57.80,601.00 57.80,600.50 59.40,600.50 59.40,600.00 61.00,600.00 61.00,599.50 62.60,599.50 62.60,599.00 64.20,599.00 64.20,599.00 65.80,599.00 65.80,598.50 67.40,598.50 67.40,598.00 69.00,598.00 69.00,597.50 70.60,597.50 70.60,597.00 72.20,597.00 72.20,596.50 73.80,596.50 73.80,596.00 75.40,596.00 75.40,595.00 77.00,595.00 77.00,594.50 78.60,594.50 78.60,594.00 80.20,594.00 80.20,593.50 81.80,593.50 81.80,593.00 83.40,593.00 83.40,592.50 85.00,592.50 85.00,591.50 86.60,591.50 86.60,591.00 88.20,591.00 88.20,590.50 89.80,590.50 89.80,589.50 91.40,589.50 91.40,589.00 93.00,589.00 93.00,588.50 94.60,588.50 94.60,587.00 96.20,587.00 96.20,584.50 97.80,584.50 97.80,578.50 99.40,578.50 99.40,573.00 101.00,573.00 101.00,568.00 102.60,568.00 102.60,562.50 104.20,562.50 104.20,554.00 105.80,554.00 105.80,545.00 107.40,545.00 107.40,537.00 109.00,537.00 109.00,527.00 110.60,527.00 110.60,525.50 112.20,525.50 112.20,525.00 113.80,525.00 113.80,524.00 115.40,524.00 115.40,521.50 117.00,521.50 117.00,521.00 118.60,521.00 118.60,529.00 120.20,529.00 120.20,533.50 121.80,533.50 121.80,534.00 123.40,534.00 123.40,535.50 125.00,535.50 125.00,548.50 126.60,548.50 126.60,556.00 128.20,556.00 128.20,560.00 129.80,560.00 129.80,563.50 131.40,563.50 131.40,567.00 133.00,567.00 133.00,570.50 134.60,570.50 134.60,573.50 136.20,573.50 136.20,576.50 137.80,576.50 137.80,578.50 139.40,578.50 139.40,580.50 141.00,580.50 141.00,583.00 142.60,583.00 142.60,585.50 144.20,585.50 144.20,589.50 145.80,589.50 145.80,592.50 147.40,592.50 147.40,593.50 149.00,593.50 149.00,594.50 150.60,594.50 150.60,595.00 152.20,595.00 152.20,596.00 153.80,596.00 153.80,596.50 155.40,596.50 155.40,597.50 157.00,597.50 157.00,598.50 158.60,598.50 158.60,599.00 160.20,599.00 160.20,599.50 161.80,599.50 161.80,600.00 163.40,600.00 163.40,600.50 165.00,600.50 165.00,601.00 166.60,601.00 166.60,601.00 168.20,601.00 168.20,601.50 169.80,601.50 169.80,601.50 171.40,601.50 171.40,602.00 173.00,602.00 173.00,602.00 174.60,602.00 174.60,602.00 176.20,602.00 176.20,602.00 177.80,602.00 177.80,602.00 179.40,602.00 179.40,602.00 181.00,602.00 181.00,602.00 182.60,602.00 182.60,602.00 184.20,602.00 184.20,602.50 185.80,602.50 185.80,602.50 187.40,602.50 187.40,602.50 189.00,602.50 189.00,602.50 190.60,602.50 190.60,602.50 192.20,602.50 192.20,602.50 193.80,602.50 193.80,602.50 195.40,602.50 195.40,602.50 197.00,602.50 197.00,602.50 198.60,602.50 198.60,602.50 200.20,602.50 200.20,603.00 201.80,603.00 201.80,603.00 203.40,603.00 203.40,603.00 205.00,603.00 205.00,603.00 206.60,603.00 206.60,603.00 208.20,603.00 208.20,603.00 209.80,603.00 209.80,603.00 211.40,603.00" fill="none" stroke="#808080" stroke-width="2.2" stroke-linejoin="round"/>
<polyline points="50.00,603.00 51.60,603.00 51.60,603.00 53.20,603.00 53.20,603.00 54.80,603.00 54.80,602.50 56.40,602.50 56.40,602.50 58.00,602.50 58.00,602.50 59.60,602.50 59.60,602.50 61.20,602.50 61.20,602.50 62.80,602.50 62.80,602.50 64.40,602.50 64.40,602.50 66.00,602.50 66.00,602.00 67.60,602.00 67.60,602.00 69.20,602.00 69.20,602.00 70.80,602.00 70.80,602.00 72.40,602.00 72.40,601.50 74.00,601.50 74.00,601.50 75.60,601.50 75.60,601.00 77.20,601.00 77.20,601.00 78.80,601.00 78.80,600.50 80.40,600.50 80.40,600.00 82.00,600.00 82.00,599.50 83.60,599.50 83.60,599.00 85.20,599.00 85.20,598.50 86.80,598.50 86.80,598.50 88.40,598.50 88.40,598.00 90.00,598.00 90.00,597.50 91.60,597.50 91.60,597.50 93.20,597.50 93.20,597.50 94.80,597.50 94.80,597.00 96.40,597.00 96.40,595.50 98.00,595.50 98.00,594.00 99.60,594.00 99.60,592.50 101.20,592.50 101.20,590.50 102.80,590.50 102.80,589.00 104.40,589.00 104.40,587.50 106.00,587.50 106.00,586.00 107.60,586.00 107.60,584.00 109.20,584.00 109.20,582.00 110.80,582.00 110.80,578.00 112.40,578.00 112.40,573.50 114.00,573.50 114.00,568.00 115.60,568.00 115.60,562.50 117.20,562.50 117.20,558.00 118.80,558.00 118.80,554.00 120.40,554.00 120.40,550.50 122.00,550.50 122.00,547.50 123.60,547.50 123.60,545.00 125.20,545.00 125.20,542.50 126.80,542.50 126.80,539.50 128.40,539.50 128.40,536.50 130.00,536.50 130.00,534.00 131.60,534.00 131.60,533.50 133.20,533.50 133.20,534.50 134.80,534.50 134.80,538.00 136.40,538.00 136.40,535.00 138.00,535.00 138.00,534.50 139.60,534.50 139.60,537.50 141.20,537.50 141.20,541.00 142.80,541.00 142.80,544.50 144.40,544.50 144.40,547.50 146.00,547.50 146.00,551.50 147.60,551.50 147.60,556.50 149.20,556.50 149.20,561.50 150.80,561.50 150.80,566.50 152.40,566.50 152.40,571.00 154.00,571.00 154.00,574.50 155.60,574.50 155.60,578.00 157.20,578.00 157.20,581.50 158.80,581.50 158.80,584.50 160.40,584.50 160.40,588.00 162.00,588.00 162.00,591.00 163.60,591.00 163.60,593.50 165.20,593.50 165.20,595.50 166.80,595.50 166.80,597.00 168.40,597.00 168.40,598.50 170.00,598.50 170.00,599.50 171.60,599.50 171.60,600.00 173.20,600.00 173.20,600.50 174.80,600.50 174.80,601.00 176.40,601.00 176.40,601.00 178.00,601.00 178.00,601.50 179.60,601.50 179.60,601.50 181.20,601.50 181.20,601.50 182.80,601.50 182.80,602.00 184.40,602.00 184.40,602.00 186.00,602.00 186.00,602.00 187.60,602.00 187.60,602.00 189.20,602.00 189.20,602.00 190.80,602.00 190.80,602.00 192.40,602.00 192.40,602.00 194.00,602.00 194.00,602.50 195.60,602.50 195.60,602.50 197.20,602.50 197.20,602.50 198.80,602.50 198.80,602.50 200.40,602.50" fill="none" stroke="#000" stroke-width="2.4" stroke-linejoin="round"/>
<text x="47.2" y="493.1" font-size="8.4" font-weight="bold" text-anchor="start" textLength="21.5" lengthAdjust="spacingAndGlyphs" fill="#000" >mIgG</text>
<text x="97.2" y="502.7" font-size="8.5" font-weight="bold" text-anchor="start" textLength="28.2" lengthAdjust="spacingAndGlyphs" fill="#000" >treated</text>
<text x="165.3" y="521.9" font-size="8.5" font-weight="bold" text-anchor="start" textLength="38.6" lengthAdjust="spacingAndGlyphs" fill="#000" >untreated</text>
<line x1="61.00" y1="494.40" x2="66.84" y2="499.71" stroke="#000" stroke-width="1" />
<polygon points="69.80,502.40 64.55,500.74 67.65,497.33" fill="#000"/>
<line x1="104.30" y1="506.00" x2="111.56" y2="514.29" stroke="#000" stroke-width="1" />
<polygon points="114.20,517.30 109.18,515.05 112.64,512.02" fill="#000"/>
<line x1="170.40" y1="523.80" x2="152.23" y2="530.85" stroke="#000" stroke-width="1" />
<polygon points="148.50,532.30 152.33,528.35 153.99,532.64" fill="#000"/>
</svg>
</body></html>
